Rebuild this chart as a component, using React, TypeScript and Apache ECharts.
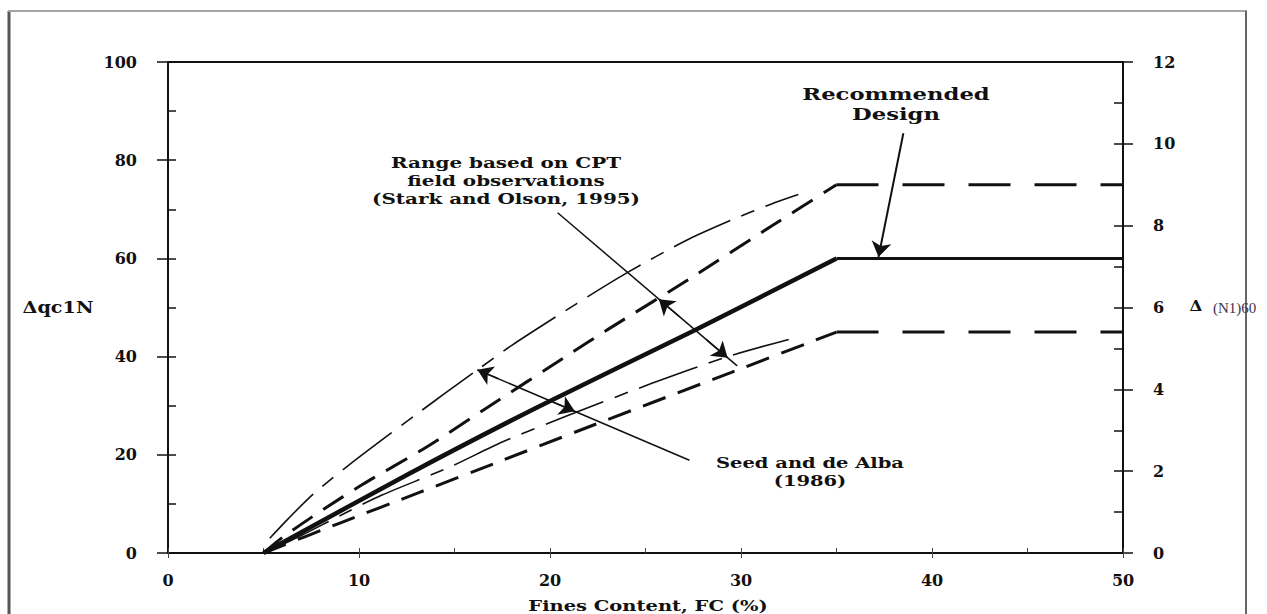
import React, { useEffect, useRef } from "react";
import * as echarts from "echarts";

// ---- axis ranges / ticks ----
const xRange = [0, 50];
const leftRange = [0, 100];
const rightRange = [0, 12];

// ---- curves (Fines content %, Δqc1N) ----
const seedUpper: number[][] = [
  [5.33, 3], [6.3, 7], [7.6, 12], [9.5, 18], [11.6, 24.2], [13.2, 28.8], [14.6, 32.8],
  [16.2, 37.3], [18, 42.3], [21.4, 50.8], [24, 57], [27.1, 63.6], [29.5, 67.8], [31.6, 71.1], [33, 73],
];
const starkUpper: number[][] = [
  [5, 0], [6, 3.2], [8.1, 8.8], [10.2, 14], [13.5, 21.5], [16.7, 29.6], [20.9, 40.2],
  [23.1, 45.7], [27.5, 56.3], [31.6, 66.6], [35, 75],
];
const starkUpperFlat: number[][] = [[35, 75], [50, 75]];
const recommended: number[][] = [[5, 0], [12.5, 15.9], [19.5, 30], [27.5, 45.2], [35, 60]];
const recommendedFlat: number[][] = [[35, 60], [50, 60]];
const seedLower: number[][] = [
  [5.5, 0.8], [7, 3.6], [9, 7.6], [11.2, 11.8], [14.75, 17.5], [17.5, 22.6], [21, 28.1],
  [25.3, 34.5], [29.3, 40], [32.5, 43.5],
];
const starkLower: number[][] = [
  [5, 0], [9, 6.1], [13.2, 12.4], [17.4, 18.7], [21.5, 24.9], [29.5, 36.8], [35, 45],
];
const starkLowerFlat: number[][] = [[35, 45], [50, 45]];

// ---- annotation arrows (data coordinates) ----
const starkArrowLine: number[][][] = [[[20.4, 69.3], [29.8, 38.1]]];
const starkArrowHeads: number[][][] = [
  [[26.8, 48.06], [25.7, 51.7]],
  [[28.2, 43.4], [29.3, 39.76]],
];
const seedArrowLine: number[][][] = [[[16.2, 37.3], [27.3, 18.9]]];
const seedArrowHeads: number[][][] = [
  [[17.3, 35.48], [16.2, 37.3]],
  [[20.2, 30.67], [21.3, 28.85]],
];
const designArrow: number[][][] = [[[38.5, 85.5], [37.2, 60.3]]];

// ---- texts ----
const starkText = ["Range based on CPT", "field observations", "(Stark and Olson, 1995)"];
const seedText = ["Seed and de Alba", "(1986)"];
const designText = ["Recommended", "Design"];
const leftTitle = "Δqc1N";
const rightTitleDelta = "Δ";
const rightTitleSub = "(N1)60";
const xTitle = "Fines Content, FC (%)";

const SERIF = '"DejaVu Serif", "Liberation Serif", serif';
const INK = "#111";

export default function App() {
  const ref = useRef<HTMLDivElement>(null);

  useEffect(() => {
    if (!ref.current) return;
    const chart = echarts.init(ref.current, undefined, { renderer: "svg" });

    const tickLabel = {
      fontFamily: SERIF,
      fontWeight: "bold" as const,
      fontSize: 16,
      color: INK,
    };

    const lineSeries = (data: number[][], width: number, type: any, smooth = false) => ({
      type: "line",
      data,
      xAxisIndex: 0,
      yAxisIndex: 0,
      symbol: "none",
      showSymbol: false,
      smooth: smooth ? 0.25 : false,
      silent: true,
      lineStyle: { color: INK, width, type, cap: "butt" },
      z: 3,
    });

    const arrowSeries = (lines: number[][][], arrow: boolean, width = 1.5) => ({
      type: "lines",
      coordinateSystem: "cartesian2d",
      xAxisIndex: 0,
      yAxisIndex: 0,
      silent: true,
      symbol: arrow ? ["none", "arrow"] : ["none", "none"],
      symbolSize: [7, 15],
      lineStyle: { color: INK, width, opacity: 1, curveness: 0 },
      data: lines.map((c) => ({ coords: c })),
      z: 4,
    });

    const text = (x: number, y: number, lines: string[], size: number, scaleX: number, extra: any = {}) => ({
      type: "text",
      x,
      y,
      scaleX,
      silent: true,
      style: {
        text: lines.join("\n"),
        fontFamily: SERIF,
        fontWeight: "bold",
        fontSize: size,
        lineHeight: 18,
        fill: INK,
        align: "center",
        verticalAlign: "middle",
        textAlign: "center",
        textVerticalAlign: "middle",
        ...extra,
      },
      z: 10,
    });

    const gridRect = { left: 168, right: 144, top: 62, bottom: 61 };
    const hiddenAxisBits = {
      axisLine: { show: false, onZero: false },
      axisLabel: { show: false },
      splitLine: { show: false },
    };

    chart.setOption({
      animation: false,
      backgroundColor: "#fff",
      grid: [
        { ...gridRect, show: true, borderColor: INK, borderWidth: 2, backgroundColor: "transparent" },
        { ...gridRect, show: false },
      ],
      xAxis: [
        {
          gridIndex: 0,
          type: "value",
          min: xRange[0],
          max: xRange[1],
          interval: 10,
          position: "bottom",
          axisLine: { show: true, onZero: false, lineStyle: { color: INK, width: 2 } },
          axisTick: { show: true, inside: false, length: 5, lineStyle: { color: "#444", width: 1 } },
          axisLabel: { ...tickLabel, margin: 19 },
          splitLine: { show: false },
        },
        {
          gridIndex: 1,
          type: "value",
          min: xRange[0],
          max: xRange[1],
          interval: 5,
          position: "bottom",
          axisTick: { show: true, inside: true, length: 5, lineStyle: { color: "#444", width: 1 } },
          ...hiddenAxisBits,
        },
      ],
      yAxis: [
        {
          gridIndex: 0,
          type: "value",
          min: leftRange[0],
          max: leftRange[1],
          interval: 20,
          position: "left",
          axisLine: { show: true, onZero: false, lineStyle: { color: INK, width: 2 } },
          axisTick: { show: true, inside: false, length: 11, lineStyle: { color: INK, width: 1.5 } },
          axisLabel: { ...tickLabel, align: "right", margin: 31 },
          splitLine: { show: false },
        },
        {
          gridIndex: 0,
          type: "value",
          min: rightRange[0],
          max: rightRange[1],
          interval: 2,
          position: "right",
          axisLine: { show: true, onZero: false, lineStyle: { color: INK, width: 2 } },
          axisTick: { show: true, inside: false, length: 10, lineStyle: { color: INK, width: 1.5 } },
          axisLabel: { ...tickLabel, align: "left", margin: 30 },
          splitLine: { show: false },
        },
        {
          gridIndex: 1,
          type: "value",
          min: leftRange[0],
          max: leftRange[1],
          interval: 10,
          position: "left",
          axisTick: { show: true, inside: true, length: 8, lineStyle: { color: INK, width: 1.5 } },
          ...hiddenAxisBits,
        },
        {
          gridIndex: 1,
          type: "value",
          min: rightRange[0],
          max: rightRange[1],
          interval: 1,
          position: "right",
          axisTick: { show: true, inside: true, length: 9, lineStyle: { color: INK, width: 1.5 } },
          ...hiddenAxisBits,
        },
      ],
      series: [
        lineSeries(seedUpper, 1.6, [62, 12, 14, 12], true),
        lineSeries(starkUpper, 3, [24, 13], true),
        lineSeries(starkUpperFlat, 3, [42, 24]),
        lineSeries(recommended, 4.5, "solid", true),
        lineSeries(recommendedFlat, 3, "solid"),
        lineSeries(seedLower, 1.6, [62, 12, 14, 12], true),
        lineSeries(starkLower, 3, [24, 13], true),
        lineSeries(starkLowerFlat, 3, [42, 24]),
        arrowSeries(starkArrowLine, false),
        arrowSeries(starkArrowHeads, true),
        arrowSeries(seedArrowLine, false),
        arrowSeries(seedArrowHeads, true),
        arrowSeries(designArrow, true, 2),
      ],
      graphic: [
        { type: "line", shape: { x1: 9, y1: 11, x2: 9, y2: 614 }, style: { stroke: "#555", lineWidth: 3 }, silent: true },
        { type: "line", shape: { x1: 8, y1: 11, x2: 1247, y2: 11 }, style: { stroke: "#a5a5a5", lineWidth: 2 }, silent: true },
        { type: "line", shape: { x1: 1246, y1: 11, x2: 1246, y2: 614 }, style: { stroke: "#666", lineWidth: 2 }, silent: true },
        text(506, 180, starkText, 15, 1.33),
        text(810, 472, seedText, 15, 1.3),
        text(896, 105, designText, 16, 1.42, { lineHeight: 20 }),
        text(58, 307, [leftTitle], 16, 1.2),
        text(1196, 306, [rightTitleDelta], 15, 1.1),
        {
          type: "text",
          x: 1213,
          y: 308,
          silent: true,
          style: {
            text: rightTitleSub,
            fontFamily: '"Liberation Serif", serif',
            fontSize: 15,
            fill: "#3d3350",
            align: "left",
            verticalAlign: "middle",
            textAlign: "left",
            textVerticalAlign: "middle",
          },
          z: 10,
        },
        text(648, 606, [xTitle], 15, 1.3),
      ],
    });

    return () => chart.dispose();
  }, []);

  return (
    <div
      ref={ref}
      style={{ position: "fixed", left: 0, top: 0, width: 1267, height: 614, background: "#fff" }}
    />
  );
}
